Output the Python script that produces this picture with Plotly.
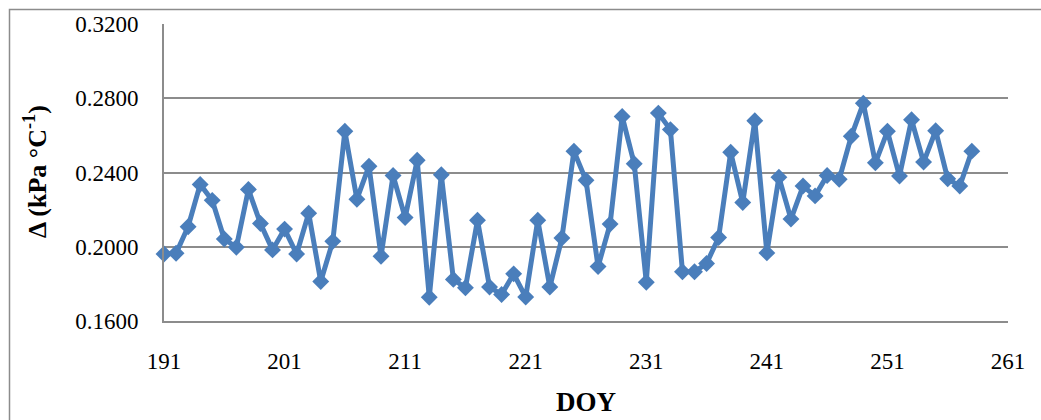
import plotly.graph_objects as go

# Day of year and daily slope of the saturation vapour pressure curve
doy = list(range(191, 259))
delta = [
    0.1961, 0.1965, 0.2108, 0.2336, 0.2250, 0.2042, 0.1997, 0.2309, 0.2125, 0.1983,
    0.2095, 0.1961, 0.2181, 0.1813, 0.2029, 0.2622, 0.2256, 0.2434, 0.1949, 0.2384,
    0.2157, 0.2466, 0.1728, 0.2388, 0.1824, 0.1779, 0.2143, 0.1783, 0.1743, 0.1854,
    0.1729, 0.2143, 0.1783, 0.2047, 0.2515, 0.2358, 0.1893, 0.2122, 0.2702, 0.2447,
    0.1809, 0.2720, 0.2631, 0.1865, 0.1865, 0.1910, 0.2050, 0.2509, 0.2238, 0.2679,
    0.1967, 0.2375, 0.2149, 0.2327, 0.2274, 0.2384, 0.2363, 0.2595, 0.2773, 0.2452,
    0.2622, 0.2381, 0.2684, 0.2456, 0.2625, 0.2366, 0.2327, 0.2515,
]

x_ticks = [191, 201, 211, 221, 231, 241, 251, 261]
y_ticks = [0.16, 0.20, 0.24, 0.28, 0.32]

W, H = 1041, 420
L, R, T, B = 164, 33, 22, 99
pw, ph = W - L - R, H - T - B

blue = "#4A7EBB"
grid = "#8C8C8C"
serif = "Liberation Serif, Times New Roman, serif"

fig = go.Figure()
fig.add_trace(go.Scatter(
    x=doy, y=delta, mode="lines+markers",
    line=dict(color=blue, width=5),
    marker=dict(symbol="diamond", size=13, color=blue),
    cliponaxis=False, showlegend=False,
))

fig.update_layout(
    width=W, height=H,
    margin=dict(l=L, r=R, t=T, b=B, pad=0),
    paper_bgcolor="white", plot_bgcolor="white",
    font=dict(family=serif, size=23, color="black"),
    xaxis=dict(
        range=[191, 261], tickvals=x_ticks, ticktext=[str(v) for v in x_ticks],
        showgrid=False, zeroline=False, showline=True, linecolor=grid, linewidth=2,
        ticks="", ticklabelstandoff=18,
        tickfont=dict(family=serif, size=23, color="black"),
    ),
    yaxis=dict(
        range=[0.16, 0.32], tickvals=y_ticks, ticktext=[f"{v:.4f}" for v in y_ticks],
        showgrid=True, gridcolor=grid, gridwidth=1.5, zeroline=False,
        showline=True, linecolor=grid, linewidth=2,
        ticks="", ticklabelstandoff=19,
        tickfont=dict(family=serif, size=23, color="black"),
    ),
    annotations=[
        dict(text="<b>Δ (kPa °C<sup>-1</sup>)</b>", textangle=-90,
             xref="paper", yref="paper", x=(35 - L) / pw, y=(H - B - 171) / ph,
             xanchor="center", yanchor="middle", showarrow=False,
             font=dict(family=serif, size=26, color="black")),
        dict(text="<b>DOY</b>",
             xref="paper", yref="paper", x=(586 - L) / pw, y=(H - B - 403) / ph,
             xanchor="center", yanchor="middle", showarrow=False,
             font=dict(family=serif, size=27, color="black")),
    ],
    shapes=[
        dict(type="rect", xref="paper", yref="paper",
             x0=(9.5 - L) / pw, x1=(W + 20 - L) / pw,
             y0=(H - B - (H + 20)) / ph, y1=(H - B - 7.5) / ph,
             line=dict(color=grid, width=1.5), fillcolor="rgba(0,0,0,0)",
             layer="below"),
    ],
)

fig.write_html("out.html")
